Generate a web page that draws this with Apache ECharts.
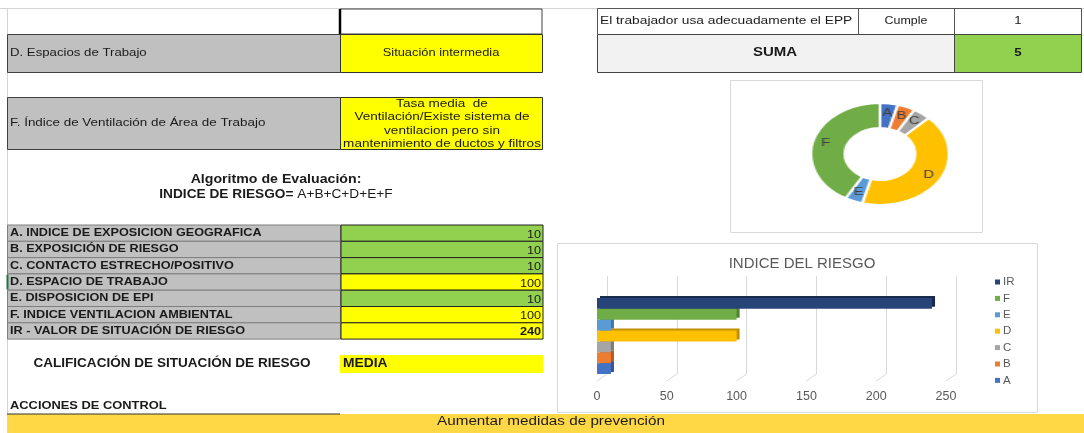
<!DOCTYPE html>
<html>
<head>
<meta charset="utf-8">
<script src="https://cdn.jsdelivr.net/npm/echarts@6/dist/echarts.min.js"></script>
<style>
html,body{margin:0;padding:0;background:#fff;}
#main{position:absolute;left:0;top:0;width:1084px;height:433px;}
#donut{position:absolute;left:825px;top:99px;width:110px;height:110px;transform:scaleX(1.353);transform-origin:55px 55px;}
</style>
</head>
<body>
<div id="main"></div>
<div id="donut"></div>
<script>
// ---- data ----
const factorCodes = ['A', 'B', 'C', 'D', 'E', 'F'];
const factorLabels = [
  'A. INDICE DE EXPOSICION GEOGRAFICA',
  'B. EXPOSICIÓN DE RIESGO',
  'C. CONTACTO ESTRECHO/POSITIVO',
  'D. ESPACIO DE TRABAJO',
  'E. DISPOSICION DE EPI',
  'F. INDICE VENTILACION AMBIENTAL'
];
const factorValues = [10, 10, 10, 100, 10, 100];
const irCode = 'IR';
const irLabel = 'IR - VALOR DE SITUACIÓN DE RIESGO';
const irValue = 240;
const xTicks = [0, 50, 100, 150, 200, 250];
const spaceLabel = 'D. Espacios de Trabajo';
const spaceValue = 'Situación intermedia';
const ventLabel = 'F. Índice de Ventilación de Área de Trabajo';
const ventValueLines = ['Tasa media  de', 'Ventilación/Existe sistema de', 'ventilacion pero sin', 'mantenimiento de ductos y filtros'];
const eppRow = ['El trabajador usa adecuadamente el EPP', 'Cumple', '1'];
const sumaLabel = 'SUMA';
const sumaValue = '5';
const rating = 'MEDIA';
const action = 'Aumentar medidas de prevención';

const seriesColors = {A:'#4472C4', B:'#ED7D31', C:'#A5A5A5', D:'#FFC000', E:'#5B9BD5', F:'#70AD47', IR:'#264478'};
const sideColors = {A:'#2F5597', B:'#B85A1E', C:'#7B7B7B', D:'#C09000', E:'#3E79AE', F:'#507E32', IR:'#172B4D'};

const FONT = '"Liberation Sans", Arial, sans-serif';
const g = [];
function rect(x, y, w, h, fill, stroke, lw) {
  g.push({type:'rect', shape:{x:x, y:y, width:w, height:h}, style:{fill:fill || 'none', stroke:stroke || null, lineWidth:lw || 0}, silent:true});
}
function line(x1, y1, x2, y2, c, lw) {
  g.push({type:'line', shape:{x1:x1, y1:y1, x2:x2, y2:y2}, style:{stroke:c, lineWidth:lw || 1}, silent:true});
}
function text(x, y, s, o) {
  o = o || {};
  g.push({type:'text', x:x, y:y, scaleX:o.sx || 1.2, silent:true, style:{text:s, fill:o.color || '#1a1a1a', font:(o.bold ? 'bold ' : '') + (o.size || 11) + 'px ' + FONT, textAlign:o.align || 'left', textVerticalAlign:'middle'}});
}

// sheet frame
line(0, 8.5, 1084, 8.5, '#D4D4D4', 1);
line(7.5, 8, 7.5, 433, '#D4D4D4', 1);

// top-left cells
rect(340, 9, 202, 25, '#fff', '#404040', 1);
line(340, 9, 340, 34, '#000', 2.5);
rect(7.5, 34.5, 333, 38, '#C0C0C0', '#404040', 1);
text(10, 53, spaceLabel, {});
rect(340.5, 34.5, 202, 38, '#FFFF00', '#333', 1);
text(441, 53, spaceValue, {align:'center', sx:1.17});
rect(7.5, 97.5, 333, 52, '#C0C0C0', '#404040', 1);
text(10, 123, ventLabel, {sx:1.22});
rect(340.5, 97.5, 202, 52, '#FFFF00', '#333', 1);
ventValueLines.forEach(function (s, i) { text(442, 104 + i * 13.4, s, {align:'center', sx:1.23}); });

// algorithm heading
text(276, 180, 'Algoritmo de Evaluación:', {bold:true, size:12, align:'center', sx:1.18});
g.push({type:'text', x:276, y:195, scaleX:1.14, silent:true, style:{text:'{b|INDICE DE RIESGO=} {n|A+B+C+D+E+F}', textAlign:'center', textVerticalAlign:'middle',
  rich:{b:{font:'bold 12px ' + FONT, fill:'#1a1a1a'}, n:{font:'12px ' + FONT, fill:'#1a1a1a'}}}});

// factor table
const rowH = 16.3, tTop = 225;
const tableRows = factorLabels.map(function (l, i) { return [l, factorValues[i]]; }).concat([[irLabel, irValue]]);
tableRows.forEach(function (r, i) {
  const y = tTop + i * rowH;
  rect(7.5, y, 333, rowH, '#C0C0C0', '#7F7F7F', 1);
  text(10, y + rowH / 2, r[0], {bold:true, sx:1.15});
  rect(341, y, 202, rowH, r[1] >= 100 ? '#FFFF00' : '#92D050', '#222', 1);
  text(541, y + rowH / 2 + 1.5, String(r[1]), {align:'right', bold:i === tableRows.length - 1, size:11, sx:1.15});
});
line(7.5, tTop + 3 * rowH + 1, 7.5, tTop + 4 * rowH - 1, '#217346', 2);

// rating
text(172, 364, 'CALIFICACIÓN DE SITUACIÓN DE RIESGO', {bold:true, size:12, align:'center', sx:1.13});
rect(340, 355, 203, 18, '#FFFF00');
text(343, 364, rating, {bold:true, size:12, sx:1.15});

// actions
text(10, 406, 'ACCIONES DE CONTROL', {bold:true, size:11, sx:1.17});
rect(7, 414, 1077, 19, '#FFD845');
line(7, 414, 340, 414, '#333', 1);
text(551, 422, action, {size:12, align:'center', sx:1.27});

// top-right table
rect(597.5, 8.5, 484, 26, '#fff', '#555', 1);
line(858.5, 8.5, 858.5, 34.5, '#555', 1);
line(954.5, 8.5, 954.5, 34.5, '#555', 1);
text(600, 21, eppRow[0], {sx:1.25});
text(906, 21, eppRow[1], {align:'center', sx:1.13});
text(1018, 21, eppRow[2], {align:'center'});
rect(597.5, 34.5, 357, 38, '#F2F2F2', '#444', 1);
rect(954.5, 34.5, 127, 38, '#92D050', '#444', 1);
text(775, 53, sumaLabel, {bold:true, size:12, align:'center', sx:1.25});
text(1018, 53, sumaValue, {bold:true, align:'center'});

// chart frames
rect(730.5, 80.5, 252, 152, '#fff', '#D9D9D9', 1);
rect(557.5, 243.5, 480, 169, '#fff', '#D9D9D9', 1);

// 3D floor ticks of the bar chart grid
xTicks.forEach(function (t) {
  const xb = 607 + t / 250 * 349, xf = 597 + t / 250 * 349;
  line(xb, 374, xf, 381, '#D9D9D9', 1);
});

// bar series, top (IR) to bottom (A)
const barNames = [irCode].concat(factorCodes.slice().reverse());
const barValues = [irValue].concat(factorValues.slice().reverse());

const main = echarts.init(document.getElementById('main'), null, {renderer:'canvas'});
main.setOption({
  animation:false,
  graphic:{elements:g},
  title:{text:'INDICE DEL RIESGO', left:797, top:251, textAlign:'center',
    textStyle:{fontSize:15, fontWeight:'normal', color:'#595959', fontFamily:FONT}},
  legend:{orient:'vertical', left:990, top:271, itemWidth:5, itemHeight:5, itemGap:4.4, icon:'rect',
    data:barNames, textStyle:{color:'#595959', fontSize:11.5, fontFamily:FONT, padding:[0,0,0,-2]}},
  grid:[
    {left:607, top:276, width:349, height:98},
    {left:597, top:298, width:349, height:76}
  ],
  xAxis:[
    {type:'value', gridIndex:0, min:0, max:250, interval:50, axisLabel:{show:false}, axisLine:{show:false}, axisTick:{show:false},
      splitLine:{lineStyle:{color:'#D9D9D9'}}},
    {type:'value', gridIndex:1, min:0, max:250, interval:50, axisLine:{show:false}, axisTick:{show:false}, splitLine:{show:false},
      axisLabel:{color:'#595959', fontSize:12.5, fontFamily:FONT, margin:16}}
  ],
  yAxis:[
    {type:'category', gridIndex:0, data:[''], show:false},
    {type:'category', gridIndex:1, data:['IR'], show:false}
  ],
  series:barNames.map(function (n, i) {
    return {name:n, type:'bar', xAxisIndex:1, yAxisIndex:1, barGap:'0%', barCategoryGap:'0%', z:10 + (barNames.length - i),
      data:[barValues[i]],
      itemStyle:{color:seriesColors[n], shadowColor:sideColors[n], shadowOffsetX:3, shadowOffsetY:-2, shadowBlur:0}};
  })
});

const donut = echarts.init(document.getElementById('donut'), null, {renderer:'canvas'});
donut.setOption({
  animation:false,
  series:[{
    type:'pie', radius:[26, 51], center:['50%', '50%'], startAngle:90, clockwise:true,
    itemStyle:{borderColor:'#fff', borderWidth:2},
    label:{show:true, position:'inside', formatter:'{b}', color:'#404040', fontSize:11, fontFamily:FONT},
    labelLine:{show:false},
    data:factorCodes.map(function (c, i) { return {name:c, value:factorValues[i], itemStyle:{color:seriesColors[c]}}; })
  }]
});
</script>
</body>
</html>
